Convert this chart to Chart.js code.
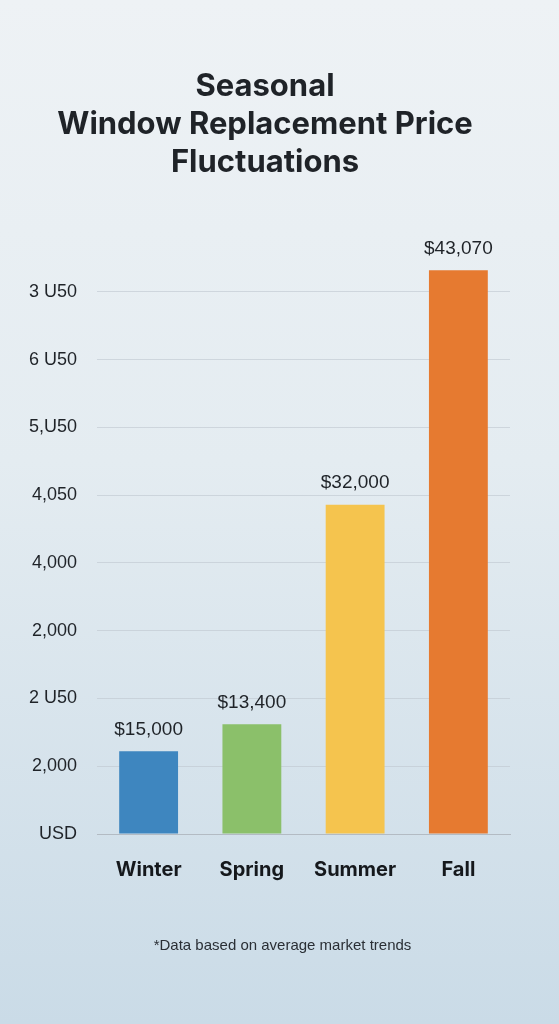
<!DOCTYPE html>
<html>
<head>
<meta charset="utf-8">
<script src="https://cdn.jsdelivr.net/npm/chart.js@4.4.1/dist/chart.umd.min.js"></script>
<style>
  html, body {
    margin: 0;
    padding: 0;
  }
  body {
    width: 559px;
    height: 1024px;
    overflow: hidden;
    background: linear-gradient(180deg, #eef2f5 0%, #e4ecf1 45%, #cadbe7 100%);
    position: relative;
  }
  #wrap {
    position: absolute;
    left: 0;
    top: 0;
    width: 559px;
    height: 1024px;
  }
  #nota {
    position: absolute;
    left: 0;
    width: 565px;
    top: 936px;
    text-align: center;
    font-family: "Liberation Sans", Arial, sans-serif;
    font-size: 15px;
    color: #2a2f35;
  }
</style>
</head>
<body>
<div id="wrap"><canvas id="grafica"></canvas></div>
<div id="nota">*Data based on average market trends</div>
<script>
const estaciones = ["Winter", "Spring", "Summer", "Fall"];
// alturas de las barras leidas contra la rejilla (cada linea = 5,000)
const precios = [6100, 8100, 24300, 41600];
const etiquetasPrecio = ["$15,000", "$13,400", "$32,000", "$43,070"];
const etiquetasEje = ["USD", "2,000", "2 U50", "2,000", "4,000", "4,050", "5,U50", "6 U50", "3 U50"];
const colores = ["#3e86bf", "#8bc06a", "#f5c44e", "#e67a30"];
const paso = 5000;

const grafica = document.getElementById("grafica");

// dibuja el precio encima de cada barra
const etiquetasBarras = {
  id: "etiquetasBarras",
  afterDatasetsDraw(chart) {
    const ctx = chart.ctx;
    const meta = chart.getDatasetMeta(0);
    ctx.save();
    ctx.font = "19px 'Liberation Sans', Arial, sans-serif";
    ctx.fillStyle = "#1f2328";
    ctx.textAlign = "center";
    ctx.textBaseline = "bottom";
    meta.data.forEach((barra, i) => {
      ctx.fillText(etiquetasPrecio[i], barra.x, barra.y - 12);
    });
    ctx.restore();
  },
};

new Chart(grafica, {
  type: "bar",
  data: {
    labels: estaciones,
    datasets: [
      {
        label: "Precio",
        data: precios,
        backgroundColor: colores,
        borderWidth: 0,
        categoryPercentage: 1,
        barPercentage: 0.57,
      },
    ],
  },
  options: {
    responsive: true,
    maintainAspectRatio: false,
    animation: false,
    layout: {
      padding: { left: 20, right: 49, top: 0, bottom: 126 },
    },
    scales: {
      x: {
        grid: { display: false },
        border: { display: true, color: "#b3bbc3", width: 1 },
        ticks: {
          color: "#15181c",
          padding: 16,
          font: { size: 20, weight: "bold", family: "Inter, 'Liberation Sans', sans-serif" },
        },
      },
      y: {
        min: 0,
        max: 43000,
        // una linea de rejilla por cada etiqueta del eje
        afterBuildTicks: (eje) => {
          eje.ticks = etiquetasEje.map((_, i) => ({ value: i * paso }));
        },
        afterFit: (eje) => {
          eje.width = 77;
        },
        grid: { color: "rgba(190, 198, 206, 0.6)", drawTicks: false },
        border: { display: false },
        ticks: {
          padding: 20,
          color: "#1f2328",
          font: { size: 18, family: "'Liberation Sans', Arial, sans-serif" },
          callback: (valor, i) => etiquetasEje[i],
        },
      },
    },
    plugins: {
      legend: { display: false },
      tooltip: { enabled: false },
      title: {
        display: true,
        text: ["Seasonal", "Window Replacement Price", "Fluctuations"],
        color: "#1f2328",
        font: { size: 31, weight: "bold", family: "Inter, 'Liberation Sans', sans-serif", lineHeight: 1.24 },
        padding: { top: 67, bottom: 69 },
      },
    },
  },
  plugins: [etiquetasBarras],
});
</script>
</body>
</html>
